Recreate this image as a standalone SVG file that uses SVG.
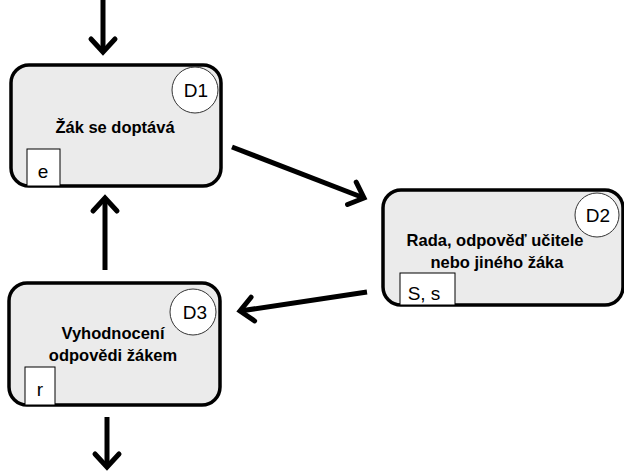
<svg xmlns="http://www.w3.org/2000/svg" width="624" height="471" viewBox="0 0 624 471">
<style>
.box{fill:#ebebeb;stroke:#000;stroke-width:3.5}
.circ{fill:#fff;stroke:#333;stroke-width:1}
.tag{fill:#fff;stroke:#000;stroke-width:1}
.t{font-family:"Liberation Sans",Arial,sans-serif;font-weight:bold;font-size:16.5px;fill:#000;text-anchor:middle}
.l{font-family:"Liberation Sans",Arial,sans-serif;font-size:19px;fill:#000;text-anchor:middle}
.c{stroke:#000;stroke-width:5;fill:none}
</style>
<defs>
<marker id="ah" markerUnits="userSpaceOnUse" markerWidth="30" markerHeight="30" viewBox="-20 -15 25 30" refX="0" refY="0" orient="auto" overflow="visible">
<path d="M-13,-12 L0,0 L-13,12" fill="none" stroke="#000" stroke-width="5" stroke-linecap="round" stroke-linejoin="miter"/>
</marker>
</defs>
<g id="connectors">
<line class="c" x1="103" y1="0" x2="103" y2="52" marker-end="url(#ah)"/>
<line class="c" x1="232" y1="147" x2="364" y2="198" marker-end="url(#ah)"/>
<line class="c" x1="367" y1="292" x2="240" y2="311" marker-end="url(#ah)"/>
<line class="c" x1="105" y1="270" x2="105" y2="198" marker-end="url(#ah)"/>
<line class="c" x1="107" y1="417" x2="107" y2="467" marker-end="url(#ah)"/>
</g>
<g id="D1">
<rect class="box" x="11" y="65" width="210" height="121" rx="18"/>
<circle class="circ" cx="195" cy="90" r="23"/>
<text class="l" x="196" y="97">D1</text>
<text class="t" x="115" y="133">Žák se doptává</text>
<rect class="tag" x="27" y="149" width="33" height="37"/>
<text class="l" x="43" y="178">e</text>
</g>
<g id="D2">
<rect class="box" x="383" y="190" width="240" height="115" rx="18"/>
<circle class="circ" cx="597" cy="215" r="22"/>
<text class="l" x="598" y="222">D2</text>
<text class="t" x="495" y="246">Rada, odpověď učitele</text>
<text class="t" x="497" y="268">nebo jiného žáka</text>
<rect class="tag" x="400" y="273" width="55" height="32"/>
<text class="l" x="424" y="300">S, s</text>
</g>
<g id="D3">
<rect class="box" x="9" y="283" width="211" height="122" rx="18"/>
<circle class="circ" cx="193" cy="312" r="23"/>
<text class="l" x="195" y="319">D3</text>
<text class="t" x="113" y="339">Vyhodnocení</text>
<text class="t" x="113" y="361">odpovědi žákem</text>
<rect class="tag" x="25" y="367" width="30" height="38"/>
<text class="l" x="40" y="396">r</text>
</g>
</svg>
